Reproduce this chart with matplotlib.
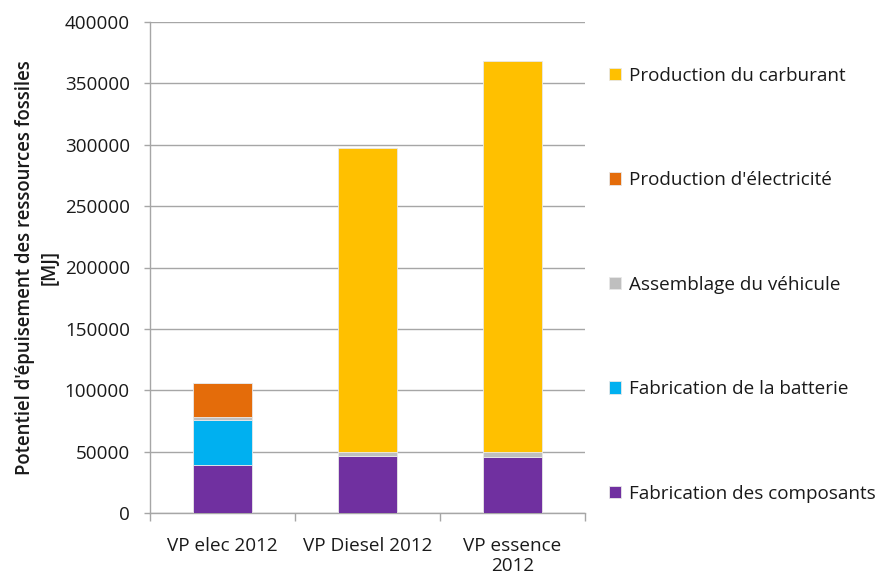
import matplotlib.pyplot as plt
import numpy as np

plt.rcParams['font.family'] = ['Open Sans', 'DejaVu Sans']

categories = ['VP elec 2012', 'VP Diesel 2012', 'VP essence\n2012']
composants = [39000, 46500, 45500]
batterie = [36500, 0, 0]
assemblage = [2700, 3200, 4200]
electricite = [28000, 0, 0]
carburant = [0, 247800, 318500]

series = [
    ('Fabrication des composants', composants, '#7030A0'),
    ('Fabrication de la batterie', batterie, '#00B0F0'),
    ('Assemblage du véhicule', assemblage, '#BFBFBF'),
    ("Production d'électricité", electricite, '#E46C0A'),
    ('Production du carburant', carburant, '#FFC000'),
]

fig = plt.figure(figsize=(8.78, 5.79), dpi=100)
ax = fig.add_axes([150 / 878, 66 / 579, 435 / 878, 491 / 579])

x = np.arange(len(categories))
bottom = np.zeros(len(categories))
handles = []
for label, vals, color in series:
    b = ax.bar(x, vals, width=0.405, bottom=bottom, color=color,
               edgecolor='#e8e8e8', linewidth=0.6, label=label, zorder=3)
    handles.append(b)
    bottom += np.array(vals)

ax.set_xlim(-0.5, 2.5)
ax.set_ylim(0, 400000)
ax.set_yticks(np.arange(0, 400001, 50000))
ax.yaxis.grid(True, color='#a6a6a6', linewidth=1.0, zorder=0)
ax.set_axisbelow(True)

for s in ['top', 'right']:
    ax.spines[s].set_visible(False)
for s in ['left', 'bottom']:
    ax.spines[s].set_color('#a6a6a6')
    ax.spines[s].set_linewidth(1.0)

ax.set_xticks(x)
ax.set_xticklabels(categories, fontsize=13.6, color='#1a1a1a', linespacing=1.2)
ax.set_xticks([-0.5, 0.5, 1.5, 2.5], minor=True)
ax.tick_params(axis='x', which='major', length=0, pad=17)
ax.tick_params(axis='x', which='minor', length=6, color='#a6a6a6', width=1.0)
ax.tick_params(axis='y', length=4.5, color='#a6a6a6', width=1.0, labelsize=13.6,
               labelcolor='#1a1a1a', pad=10)

ax.set_ylabel("Potentiel d'épuisement des ressources fossiles\n[MJ]",
              fontsize=13.4, fontweight='semibold', linespacing=1.35, color='#1a1a1a')
ax.yaxis.set_label_coords(-0.207, 0.5)

fig.legend(handles[::-1], [s[0] for s in series][::-1],
           loc='upper left', bbox_to_anchor=(601 / 878, 1 - 59 / 579),
           frameon=False, fontsize=13.6, handlelength=0.66, handleheight=0.66,
           handletextpad=0.4, labelspacing=4.58, borderaxespad=0,
           labelcolor='#1a1a1a')

fig.savefig('out.png', dpi=100)
